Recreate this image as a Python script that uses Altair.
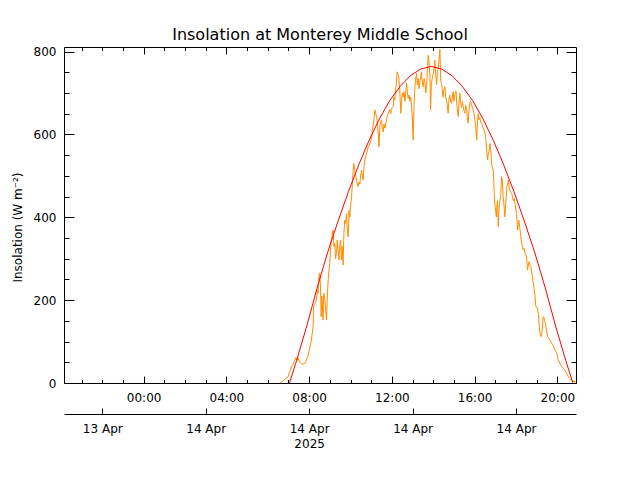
import altair as alt
import pandas as pd

TITLE = "Insolation at Monterey Middle School"
Y_TITLE = "Insolation (W m\u207b\u00b2)"

# observed insolation (hours after 14 Apr 00:00, W m-2)
obs_hours = [6.60, 6.70, 6.80, 6.90, 6.98, 7.06, 7.14, 7.22, 7.30, 7.36, 7.42, 7.47, 7.55, 7.63, 7.71,
             7.79, 7.87, 7.95, 8.03, 8.11, 8.19, 8.22, 8.27, 8.35, 8.40, 8.43, 8.48, 8.51, 8.55, 8.58,
             8.62, 8.67, 8.71, 8.76, 8.80, 8.84, 8.88, 8.92, 8.96, 9.00, 9.04, 9.08, 9.12, 9.16, 9.20,
             9.24, 9.28, 9.32, 9.36, 9.40, 9.44, 9.48, 9.52, 9.56, 9.60, 9.64, 9.68, 9.72, 9.76, 9.81,
             9.85, 9.89, 9.93, 9.97, 10.00, 10.05, 10.09, 10.13, 10.16, 10.20, 10.25, 10.29, 10.33, 10.37, 10.41,
             10.45, 10.49, 10.53, 10.57, 10.61, 10.65, 10.69, 10.73, 10.77, 10.81, 10.85, 10.89, 10.93, 10.98, 11.02,
             11.06, 11.10, 11.13, 11.18, 11.22, 11.27, 11.33, 11.38, 11.42, 11.46, 11.50, 11.54, 11.58, 11.62, 11.66,
             11.70, 11.74, 11.78, 11.82, 11.86, 11.90, 11.94, 11.98, 12.02, 12.06, 12.10, 12.14, 12.18, 12.22, 12.25,
             12.29, 12.33, 12.38, 12.43, 12.47, 12.51, 12.55, 12.59, 12.63, 12.67, 12.71, 12.75, 12.79, 12.83, 12.87,
             12.91, 12.95, 12.99, 13.03, 13.07, 13.11, 13.14, 13.19, 13.23, 13.27, 13.31, 13.35, 13.39, 13.43, 13.47,
             13.51, 13.56, 13.60, 13.64, 13.68, 13.72, 13.76, 13.80, 13.84, 13.87, 13.91, 13.95, 13.99, 14.04, 14.08,
             14.12, 14.16, 14.20, 14.24, 14.28, 14.32, 14.36, 14.40, 14.43, 14.47, 14.51, 14.56, 14.60, 14.64, 14.68,
             14.72, 14.76, 14.80, 14.84, 14.89, 14.92, 14.96, 15.00, 15.05, 15.10, 15.14, 15.21, 15.25, 15.29, 15.33,
             15.37, 15.41, 15.45, 15.49, 15.53, 15.57, 15.61, 15.65, 15.69, 15.73, 15.77, 15.81, 15.85, 15.89, 15.93,
             15.97, 16.01, 16.05, 16.10, 16.14, 16.17, 16.21, 16.25, 16.29, 16.34, 16.38, 16.42, 16.46, 16.50, 16.54,
             16.58, 16.63, 16.66, 16.70, 16.74, 16.78, 16.82, 16.86, 16.90, 16.95, 16.98, 17.01, 17.05, 17.08, 17.11,
             17.14, 17.18, 17.22, 17.26, 17.30, 17.34, 17.38, 17.42, 17.46, 17.50, 17.53, 17.56, 17.60, 17.63, 17.67,
             17.71, 17.75, 17.79, 17.83, 17.87, 17.91, 17.95, 17.99, 18.03, 18.08, 18.11, 18.14, 18.18, 18.22, 18.27,
             18.31, 18.35, 18.39, 18.43, 18.47, 18.51, 18.56, 18.60, 18.63, 18.68, 18.72, 18.76, 18.79, 18.84, 18.88,
             18.92, 18.96, 19.00, 19.04, 19.08, 19.11, 19.16, 19.21, 19.24, 19.27, 19.30, 19.32, 19.35, 19.38, 19.43,
             19.48, 19.53, 19.58, 19.64, 19.68, 19.72, 19.80, 19.88, 19.97, 20.04, 20.12, 20.21, 20.29, 20.37, 20.45,
             20.53, 20.60, 20.68, 20.76, 20.85, 20.90]
obs_values = [0, 3, 8, 12, 15, 28, 39, 45, 55, 62, 55, 60, 50, 46, 46,
              47, 55, 67, 85, 104, 136, 184, 190, 200, 225, 216, 262, 265, 232, 160,
              210, 152, 216, 200, 175, 152, 210, 249, 270, 289, 330, 345, 361, 369, 329,
              337, 300, 313, 345, 321, 297, 330, 345, 297, 330, 285, 360, 393, 385, 409,
              361, 353, 417, 400, 425, 450, 480, 514, 530, 515, 500, 490, 480, 474, 485,
              480, 500, 514, 500, 490, 520, 538, 545, 554, 560, 570, 572, 578, 585, 594,
              610, 625, 635, 659, 650, 640, 610, 570, 620, 630, 635, 615, 606, 625, 615,
              625, 635, 645, 651, 655, 660, 650, 660, 665, 667, 690, 683, 710, 723, 751,
              745, 740, 707, 651, 683, 700, 690, 703, 680, 700, 723, 700, 687, 695, 680,
              690, 667, 640, 586, 670, 710, 731, 747, 720, 735, 710, 725, 740, 751, 725,
              715, 735, 725, 700, 719, 760, 791, 770, 740, 659, 723, 735, 745, 760, 779,
              745, 720, 750, 760, 780, 805, 731, 720, 711, 690, 705, 715, 690, 683, 670,
              651, 685, 695, 680, 675, 690, 703, 680, 699, 705, 670, 643, 680, 699, 675,
              665, 680, 667, 655, 651, 670, 660, 640, 627, 660, 675, 680, 671, 665, 660,
              650, 635, 620, 586, 630, 650, 635, 640, 630, 627, 620, 615, 610, 603, 590,
              562, 538, 555, 560, 578, 560, 530, 520, 514, 458, 430, 417, 401, 430, 440,
              377, 420, 440, 450, 498, 490, 450, 430, 401, 430, 450, 474, 480, 490, 470,
              465, 460, 458, 450, 440, 445, 434, 420, 409, 369, 390, 393, 375, 361, 337,
              330, 321, 325, 315, 310, 305, 273, 285, 293, 285, 281, 265, 257, 241, 225,
              208, 184, 184, 178, 168, 144, 120, 112, 118, 128, 150, 160, 158, 150, 144,
              125, 112, 108, 104, 100, 96, 90, 80, 72, 56, 48, 39, 35, 31, 23,
              15, 11, 7, 5, 3, 2]

# clear-sky model
model_hours = [7.05, 7.4, 7.9, 8.4, 8.9, 9.4, 9.9, 10.4, 10.9, 11.4, 11.9, 12.4, 12.9, 13.4, 13.9,
               14.4, 14.9, 15.4, 15.9, 16.4, 16.9, 17.4, 17.9, 18.4, 18.9, 19.4, 19.9, 20.4, 20.75]
model_values = [0, 55, 140, 232, 316, 391, 462, 527, 586, 638, 682, 716, 742, 758, 764,
                758, 742, 716, 682, 638, 586, 527, 462, 391, 316, 232, 140, 55, 0]

time_ticks = [0, 4, 8, 12, 16, 20]
time_labels = ["00:00", "04:00", "08:00", "12:00", "16:00", "20:00"]
hour_ticks = list(range(-3, 21))
date_ticks = [-2, 3, 8, 13, 18]
date_labels = ["13 Apr", "14 Apr", "14 Apr", "14 Apr", "14 Apr"]
year_tick = 8
year_label = "2025"
y_ticks = [0, 200, 400, 600, 800]
y_minor_ticks = list(range(0, 801, 50))

W, H = 512, 336
X_DOMAIN = [-3.85, 20.9]
Y_DOMAIN = [0, 811]
DATE_OFFSET = 31
FONT = "DejaVu Sans"


def label_expr(values, labels, multi=None):
    expr = "''"
    for v, lab in zip(reversed(values), reversed(labels)):
        text = "'%s'" % lab
        if multi is not None and v == multi[0]:
            text = "['%s', '%s']" % (lab, multi[1])
        expr = "datum.value == %s ? %s : (%s)" % (v, text, expr)
    return expr


obs = pd.DataFrame({"h": obs_hours, "v": obs_values})
model = pd.DataFrame({"h": model_hours, "v": model_values})

xs = alt.Scale(domain=X_DOMAIN, nice=False, zero=False)
ys = alt.Scale(domain=Y_DOMAIN, nice=False, zero=False)

common = dict(grid=False, title=None, labelFont=FONT, labelFontSize=12, labelColor="black",
              tickColor="black", tickWidth=1)

# layer 1: observed line + labelled axes
ax_time = alt.Axis(orient="bottom", values=time_ticks, labelExpr=label_expr(time_ticks, time_labels),
                   ticks=False, domain=False, labelPadding=9, labelFlush=False, labelOverlap=False,
                   **common)
ax_val = alt.Axis(orient="left", values=y_ticks, format="d", ticks=False, domain=False,
                  labelPadding=8, labelFlush=False, labelOverlap=False,
                  **{**common, "title": Y_TITLE}, titleFont=FONT, titleFontSize=12,
                  titleFontWeight="normal", titleColor="black", titlePadding=9,
                  titleY=H / 2 + 12)
l1 = alt.Chart(obs).mark_line(color="#FF8C00", strokeWidth=1).encode(
    x=alt.X("h:Q", scale=xs, axis=ax_time),
    y=alt.Y("v:Q", scale=ys, axis=ax_val),
)

# layer 2: model line + inward ticks on bottom and left
tick_x = {"condition": {"test": "datum.value % 4 === 0", "value": 7}, "value": 3.5}
tick_y = {"condition": {"test": "datum.value % 200 === 0", "value": 10}, "value": 5}
ax_bot_ticks = alt.Axis(orient="top", offset=-H, values=hour_ticks, labels=False, domain=False,
                        tickSize=tick_x, **common)
ax_left_ticks = alt.Axis(orient="right", offset=-W, values=y_minor_ticks, labels=False, domain=False,
                         tickSize=tick_y, **common)
l2 = alt.Chart(model).mark_line(color="#FF0000", strokeWidth=1).encode(
    x=alt.X("h:Q", scale=xs, axis=ax_bot_ticks),
    y=alt.Y("v:Q", scale=ys, axis=ax_left_ticks),
)

# layer 3: inward ticks on top and right
ax_top_ticks = alt.Axis(orient="bottom", offset=-H, values=hour_ticks, labels=False, domain=False,
                        tickSize=tick_x, **common)
ax_right_ticks = alt.Axis(orient="left", offset=-W, values=y_minor_ticks, labels=False, domain=False,
                          tickSize=tick_y, **common)
l3 = alt.Chart(model).mark_point(opacity=0).encode(
    x=alt.X("h:Q", scale=xs, axis=ax_top_ticks),
    y=alt.Y("v:Q", scale=ys, axis=ax_right_ticks),
)

# layer 4: date axis labels
ax_date = alt.Axis(orient="bottom", offset=DATE_OFFSET, values=date_ticks,
                   labelExpr=label_expr(date_ticks, date_labels, (year_tick, year_label)),
                   ticks=False, domain=True, domainColor="black", domainWidth=1,
                   labelPadding=9, labelFlush=False, labelOverlap=False, labelLineHeight=15,
                   labelBaseline="top", **common)
l4 = alt.Chart(model).mark_point(opacity=0).encode(
    x=alt.X("h:Q", scale=xs, axis=ax_date),
    y=alt.Y("v:Q", scale=ys, axis=None),
)

# layer 5: date axis ticks pointing up
ax_date_ticks = alt.Axis(orient="top", offset=-(H + DATE_OFFSET), values=date_ticks, labels=False,
                         domain=False, tickSize=6, **common)
l5 = alt.Chart(model).mark_point(opacity=0).encode(
    x=alt.X("h:Q", scale=xs, axis=ax_date_ticks),
    y=alt.Y("v:Q", scale=ys, axis=None),
)

chart = (
    alt.layer(l1, l2, l3, l4, l5)
    .resolve_axis(x="independent", y="independent")
    .properties(
        width=W, height=H,
        title=alt.TitleParams(TITLE, font=FONT, fontSize=16, fontWeight="normal", color="black",
                              anchor="middle", frame="group", offset=3),
        autosize=alt.AutoSizeParams(type="none"),
        padding={"left": 56, "top": 39, "right": 56, "bottom": 89},
        background="white",
    )
    .configure_view(stroke="black", strokeWidth=1)
)

chart.save("out.html", embed_options={"renderer": "svg", "actions": False})
